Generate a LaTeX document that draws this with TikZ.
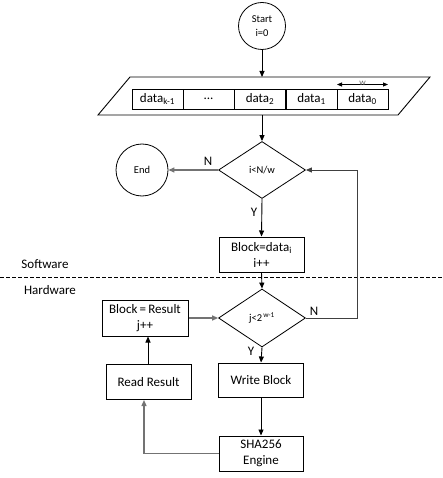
\documentclass[tikz,border=0pt]{standalone}
\usepackage{fontspec}
\setmainfont{Carlito}
\usetikzlibrary{shapes.geometric,arrows.meta}
\tikzset{
  boxnode/.style={draw, line width=1pt, inner sep=0pt, align=center,
    font=\fontsize{13}{16}\selectfont},
  roundnode/.style={draw, circle, line width=0.8pt, inner sep=0pt, align=center,
    font=\fontsize{10.5}{14}\selectfont},
  decnode/.style={draw, diamond, line width=0.8pt, inner sep=0pt,
    minimum width=87pt, minimum height=57pt, font=\fontsize{10.5}{12}\selectfont},
  cellnode/.style={draw, line width=0.8pt, minimum width=51pt, minimum height=20pt,
    inner sep=0pt, font=\fontsize{13}{15}\selectfont},
  lbl/.style={inner sep=0pt, font=\fontsize{13}{15}\selectfont},
  flow/.style={line width=0.9pt, -{Triangle[length=6pt,width=5pt]}},
  grayflow/.style={line width=1.3pt, draw=black!55, -{Triangle[length=6pt,width=5pt]}},
}
\begin{document}
\begin{tikzpicture}[x=1pt,y=-1pt]
\useasboundingbox (0,0) rectangle (443,478);
% start
\node[roundnode, minimum size=47pt] (start) at (262,26) {Start\\i=0};
% input parallelogram
\coordinate (pTL) at (130,77);
\coordinate (pTR) at (430,77);
\coordinate (pBR) at (398,115);
\coordinate (pBL) at (98,115);
\coordinate (pTop) at (262,77);
\coordinate (pBot) at (262,115);
\draw[line width=0.9pt] (pTL) -- (pTR) -- (pBR) -- (pBL) -- cycle;
\node[cellnode] (c4) at (157.5,99) {data\textsubscript{k-1}};
\node[cellnode] (c3) at (208.5,99) {...};
\node[cellnode] (c2) at (260,99) {data\textsubscript{2}};
\node[cellnode] (c1) at (311.5,99) {data\textsubscript{1}};
\node[cellnode] (c0) at (362.5,99) {data\textsubscript{0}};
\coordinate (wl) at (337,84.5);
\coordinate (wr) at (388,84.5);
\draw[line width=0.9pt, {Triangle[length=5pt,width=4pt]}-{Triangle[length=5pt,width=4pt]}] (wl) -- (wr);
\node[inner sep=0pt, text=black!60, font=\fontsize{9}{10}\selectfont] (wlab) at (362.5,83) {w};
% decision 1
\node[decnode] (d1) at (262,170) {i<N/w};
\node[roundnode, minimum size=52pt] (end) at (142,170) {End};
\node[lbl] (n1) at (208,161) {N};
\node[lbl] (y1) at (254,212) {Y};
% block=data
\node[boxnode, minimum width=85pt, minimum height=35pt] (bd) at (261.5,254.5) {Block=data\textsubscript{i}\\i++};
% separator
\coordinate (sl) at (0,277.5);
\coordinate (sr) at (443,277.5);
\draw[line width=0.7pt, dash pattern=on 3.5pt off 2.5pt] (sl) -- (sr);
\node[lbl] (sw) at (45,264) {Software};
\node[lbl] (hw) at (50,290) {Hardware};
% decision 2
\node[decnode, minimum height=58pt] (d2) at (262,318) {j<2\textsuperscript{\,w-1}};
\node[lbl] (n2) at (314,311) {N};
\node[lbl] (y2) at (251,351) {Y};
\coordinate (loopa) at (357,318);
\coordinate (loopb) at (357,170);
% boxes
\node[boxnode, minimum width=86pt, minimum height=36pt] (br) at (145,318) {Block\,=\,Result\\j++};
\node[boxnode, minimum width=85pt, minimum height=34pt] (wb) at (261,380) {Write Block};
\node[boxnode, minimum width=85pt, minimum height=35pt] (rr) at (148.5,382) {Read Result};
\node[boxnode, minimum width=84pt, minimum height=35pt] (sha) at (261,453.5) {SHA256\\Engine};
\coordinate (shal) at (144,453.5);
\coordinate (upx) at (148,382);
% connectors
\draw[flow] (start) -- (pTop);
\draw[flow] (pBot) -- (d1.north);
\draw[grayflow] (d1.west) -- (end);
\draw[flow] (d1.south) -- (bd.north);
\draw[flow] (bd.south) -- (d2.north);
\draw[line width=1pt, draw=black!75] (d2.east) -- (loopa) -- (loopb);
\draw[flow, draw=black!75] (loopb) -- (d1.east);
\draw[grayflow] (br.east) -- (d2.west);
\draw[flow] (d2.south) -- (wb.north);
\draw[flow] (wb.south) -- (sha.north);
\draw[grayflow] (sha.west) -- (shal) -- (shal |- rr.south);
\draw[flow] (upx |- rr.north) -- (upx |- br.south);
\end{tikzpicture}
\end{document}
